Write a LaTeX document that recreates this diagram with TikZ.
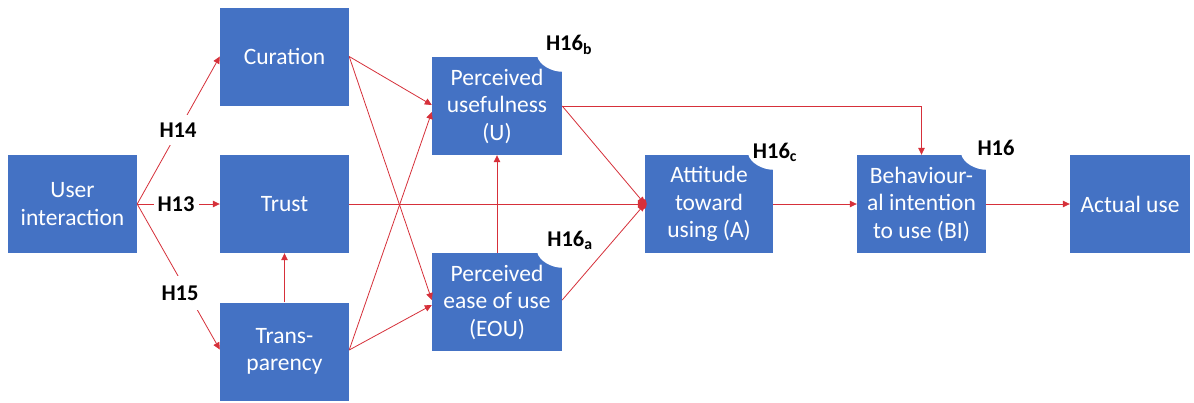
\documentclass[tikz,border=0pt]{standalone}
\usepackage{fontspec}
\setmainfont{Carlito}
\usetikzlibrary{arrows.meta,calc}
\definecolor{boxblue}{RGB}{68,114,196}
\definecolor{linered}{RGB}{214,48,58}
\begin{document}
\begin{tikzpicture}[x=1pt,y=-1pt,
  box/.style={fill=boxblue,text=white,minimum width=129pt,minimum height=98pt,
    align=center,font=\fontsize{23.5}{27.5}\selectfont,inner sep=0pt},
  lbl/.style={font=\bfseries\fontsize{22.5}{26}\selectfont,text=black,inner sep=1pt},
  hl/.style={lbl,fill=white,inner xsep=4pt,inner ysep=8pt},
  conn/.style={draw=linered,line width=0.8pt},
  arr/.style={conn,-{Triangle[length=7pt,width=6.5pt]}}
]
\useasboundingbox (0,0) rectangle (1194,402);
\fill[white] (0,0) rectangle (1194,402);

\node[box] (ui) at (72.5,204) {User\\interaction};
\node[box] (cur) at (284.5,56.5) {Curation};
\node[box] (trust) at (284.5,204) {Trust};
\node[box] (trans) at (284.5,351.5) {Trans-\\parency};
\node[box,minimum width=130pt] (pu) at (497,106) {Perceived\\usefulness\\(U)};
\node[box,minimum width=130pt] (peou) at (497,302) {Perceived\\ease of use\\(EOU)};
\node[box,minimum width=128pt] (att) at (709,204) {Attitude\\toward\\using (A)};
\node[box] (bi) at (921.5,204) {Behaviour-\\al intention\\to use (BI)};
\node[box,minimum width=120pt] (act) at (1130,204) {Actual use};

% notches
\foreach \n in {pu,peou,att,bi}{
  \fill[white] ($(\n.north east)+(-25,-0.5)$) .. controls ($(\n.north east)+(-23,8)$) and ($(\n.north east)+(-11,15)$) .. ($(\n.north east)+(0.5,15)$) -- ($(\n.north east)+(0.5,-0.5)$) -- cycle;
}

% connectors
\draw[arr] (ui.east) -- (cur.west);
\draw[arr] (ui.east) -- (trust.west);
\draw[arr] (ui.east) -- ($(trans.west)+(0,-2)$);
\draw[arr] (cur.east) -- ($(pu.west)+(0,-1)$);
\draw[arr] (cur.east) -- ($(peou.west)+(0,-2)$);
\draw[arr] ($(trans.east)+(0,-1.5)$) -- ($(pu.west)+(0,6)$);
\draw[arr] ($(trans.east)+(0,-1.5)$) -- ($(peou.west)+(0,3)$);
\draw[arr] (trans.north) -- (trust.south);
\draw[arr] (peou.north) -- (pu.south);
\draw[arr] (trust.east) -- (att.west);
\draw[arr] (pu.east) -- (att.west);
\draw[arr] ($(peou.east)+(0,-2)$) -- (att.west);
\coordinate (turn) at ($(pu.east)!(bi.north)!($(pu.east)+(100,0)$)$);
\draw[arr] (pu.east) -- (turn) -- (bi.north);
\draw[arr] (att.east) -- (bi.west);
\draw[arr] (bi.east) -- (act.west);
\fill[linered] ($(att.west)+(-1.5,0)$) ellipse [x radius=3.5pt,y radius=5.5pt];

% labels
\node[hl] (h14) at (178,130) {H14};
\node[hl,inner ysep=3pt] (h13) at (176,204) {H13};
\node[hl,inner ysep=10pt] (h15) at (180,293) {H15};
\node[lbl] (h16b) at (569,45) {H16\textsubscript{b}};
\node[lbl] (h16a) at (570,240) {H16\textsubscript{a}};
\node[lbl] (h16c) at (775,152) {H16\textsubscript{c}};
\node[lbl] (h16) at (996,148) {H16};
\end{tikzpicture}
\end{document}
